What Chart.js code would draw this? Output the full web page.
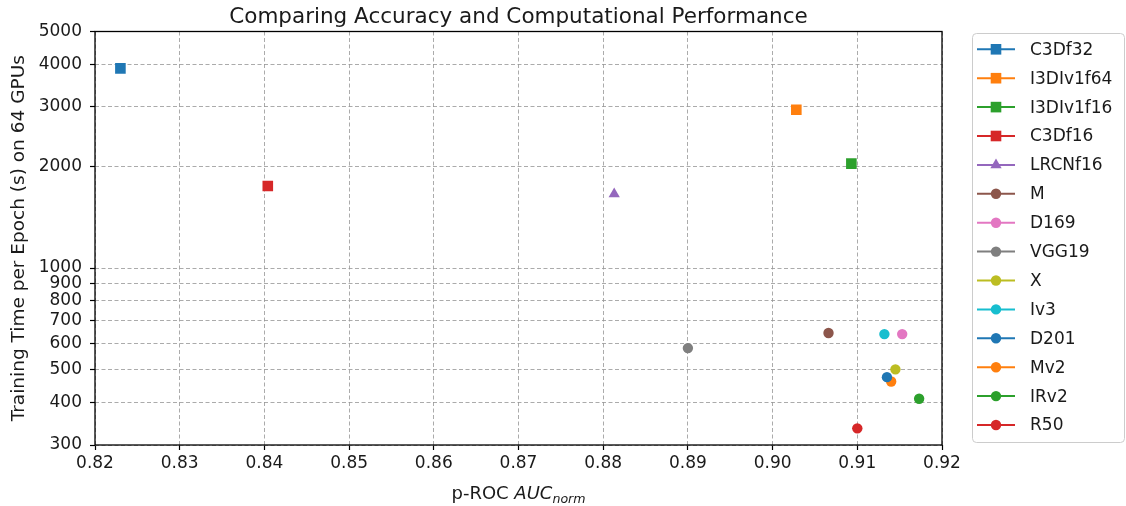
<!DOCTYPE html>
<html>
<head>
<meta charset="utf-8">
<script src="https://cdn.jsdelivr.net/npm/chart.js@4.4.1/dist/chart.umd.min.js"></script>
<style>
    body { margin: 0; background: #ffffff; }
</style>
</head>
<body>
<canvas id="perfChart" width="1126" height="506"></canvas>
<script>
const models = ['C3Df32', 'I3DIv1f64', 'I3DIv1f16', 'C3Df16', 'LRCNf16', 'M', 'D169',
                'VGG19', 'X', 'Iv3', 'D201', 'Mv2', 'IRv2', 'R50'];
const aucNorm = [0.8230, 0.9028, 0.9093, 0.8404, 0.8813, 0.9066, 0.9153,
                 0.8900, 0.9145, 0.9132, 0.9135, 0.9140, 0.9173, 0.9100];
const epochTime = [3890, 2935, 2035, 1748, 1655, 643, 638,
                   580, 502, 638, 476, 462, 411, 336];
const markers = ['rect', 'rect', 'rect', 'rect', 'triangle', 'circle', 'circle',
                 'circle', 'circle', 'circle', 'circle', 'circle', 'circle', 'circle'];
const colors = ['#1f77b4', '#ff7f0e', '#2ca02c', '#d62728', '#9467bd', '#8c564b', '#e377c2',
                '#7f7f7f', '#bcbd22', '#17becf', '#1f77b4', '#ff7f0e', '#2ca02c', '#d62728'];

const xTicks = [0.82, 0.83, 0.84, 0.85, 0.86, 0.87, 0.88, 0.89, 0.90, 0.91, 0.92];
const yTicks = [300, 400, 500, 600, 700, 800, 900, 1000, 2000, 3000, 4000, 5000];

const FONT = "'DejaVu Sans', sans-serif";
const TEXT = '#1a1a1a';
const GRID = 'rgba(150,150,150,0.8)';

function markerRadius(style) {
    if (style === 'rect') return 7.5;
    if (style === 'triangle') return 6.5;
    return 5.2;
}

const datasets = models.map(function(name, i) {
    return {
        label: name,
        data: [{x: aucNorm[i], y: epochTime[i]}],
        pointStyle: markers[i],
        pointRadius: markerRadius(markers[i]),
        pointHoverRadius: markerRadius(markers[i]),
        backgroundColor: colors[i],
        borderColor: colors[i],
        borderWidth: 0,
        showLine: false
    };
});

// frame, x axis title (with italic subscript) and legend box
const decorations = {
    id: 'decorations',
    afterDraw(chart) {
        const c = chart.ctx;
        const area = chart.chartArea;
        c.save();

        c.strokeStyle = '#000000';
        c.lineWidth = 1.3;
        c.strokeRect(area.left, area.top, area.right - area.left, area.bottom - area.top);

        const parts = [
            {text: 'p-ROC ', font: '18px ' + FONT, dy: 0},
            {text: 'AUC', font: 'italic 18px ' + FONT, dy: 0},
            {text: 'norm', font: 'italic 12.6px ' + FONT, dy: 4}
        ];
        let total = 0;
        parts.forEach(function(p) {
            c.font = p.font;
            p.w = c.measureText(p.text).width;
            total += p.w;
        });
        let tx = (area.left + area.right) / 2 - total / 2;
        c.fillStyle = TEXT;
        c.textBaseline = 'alphabetic';
        c.textAlign = 'left';
        parts.forEach(function(p) {
            c.font = p.font;
            c.fillText(p.text, tx, 499 + p.dy);
            tx += p.w;
        });

        const lx = 972.5, ly = 33.5, lw = 152, lh = 409;
        c.beginPath();
        if (c.roundRect) {
            c.roundRect(lx, ly, lw, lh, 4);
        } else {
            c.rect(lx, ly, lw, lh);
        }
        c.fillStyle = 'rgba(255,255,255,0.8)';
        c.fill();
        c.strokeStyle = '#cccccc';
        c.lineWidth = 1;
        c.stroke();

        chart.data.datasets.forEach(function(ds, i) {
            const y = 49.3 + i * 28.9;
            c.strokeStyle = ds.borderColor;
            c.lineWidth = 2;
            c.beginPath();
            c.moveTo(977, y);
            c.lineTo(1015, y);
            c.stroke();

            c.fillStyle = ds.backgroundColor;
            Chart.helpers.drawPoint(c, {
                pointStyle: ds.pointStyle,
                radius: ds.pointRadius,
                rotation: 0,
                borderWidth: 0
            }, 996, y);

            c.fillStyle = TEXT;
            c.font = '17px ' + FONT;
            c.textBaseline = 'middle';
            c.fillText(ds.label, 1030, y + 1);
        });

        c.restore();
    }
};

new Chart(document.getElementById('perfChart'), {
    type: 'scatter',
    data: { datasets: datasets },
    plugins: [decorations],
    options: {
        responsive: false,
        animation: false,
        devicePixelRatio: 1,
        layout: {
            padding: { left: 0, right: 184, top: 0, bottom: 0 }
        },
        scales: {
            x: {
                type: 'linear',
                min: 0.82,
                max: 0.92,
                afterBuildTicks: function(scale) {
                    scale.ticks = xTicks.map(v => ({value: v}));
                },
                afterFit: function(scale) {
                    scale.height = 61;
                },
                ticks: {
                    autoSkip: false,
                    maxRotation: 0,
                    padding: 3,
                    color: TEXT,
                    font: { family: FONT, size: 17 },
                    callback: v => v.toFixed(2)
                },
                grid: {
                    color: GRID,
                    lineWidth: 1,
                    tickColor: '#000000',
                    tickBorderDash: [],
                    tickLength: 5,
                    tickWidth: 1.2
                },
                border: { display: false, dash: [4, 2.5] },
                title: { display: false }
            },
            y: {
                type: 'logarithmic',
                min: 300,
                max: 5000,
                afterBuildTicks: function(scale) {
                    scale.ticks = yTicks.map(v => ({value: v}));
                },
                afterFit: function(scale) {
                    scale.width = 95;
                },
                ticks: {
                    autoSkip: false,
                    padding: 8,
                    color: TEXT,
                    font: { family: FONT, size: 17 },
                    callback: v => String(v)
                },
                grid: {
                    color: GRID,
                    lineWidth: 1,
                    tickColor: '#000000',
                    tickBorderDash: [],
                    tickLength: 5,
                    tickWidth: 1.2
                },
                border: { display: false, dash: [4, 2.5] },
                title: {
                    display: true,
                    text: 'Training Time per Epoch (s) on 64 GPUs',
                    color: TEXT,
                    font: { family: FONT, size: 18.5 },
                    padding: { top: 8, bottom: 0 }
                }
            }
        },
        plugins: {
            legend: { display: false },
            tooltip: { enabled: false },
            title: {
                display: true,
                fullSize: false,
                text: 'Comparing Accuracy and Computational Performance',
                color: TEXT,
                font: { family: FONT, size: 21.5, weight: 'normal', lineHeight: 1.2 },
                padding: { top: 4.5, bottom: 1.2 }
            }
        }
    }
});
</script>
</body>
</html>
